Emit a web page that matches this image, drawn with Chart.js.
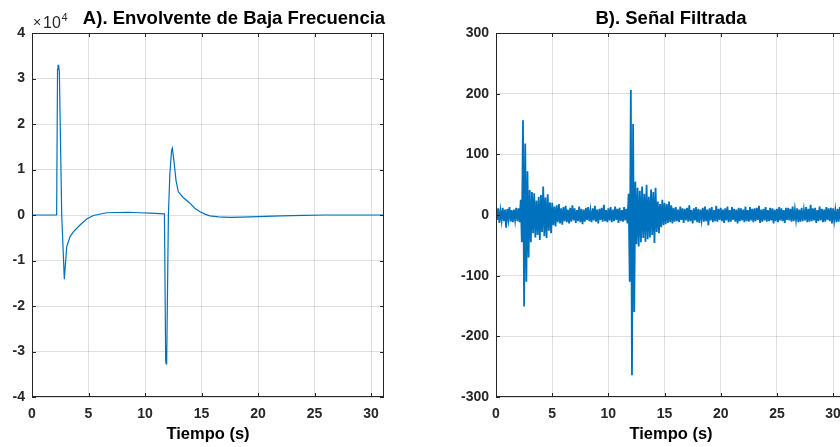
<!DOCTYPE html>
<html lang="es">
<head>
<meta charset="UTF-8">
<title>Envolvente y Señal Filtrada</title>
<script src="https://cdn.jsdelivr.net/npm/chart.js"></script>
<style>
  body { margin: 0; background: #fff; overflow: hidden; width: 840px; height: 447px; position: relative; }
  canvas { position: absolute; top: 0; }
  #envChart { left: 0; }
  #filtChart { left: 420px; }
</style>
</head>
<body>
<canvas id="envChart" width="420" height="447"></canvas>
<canvas id="filtChart" width="430" height="447"></canvas>
<script>
// A) low frequency envelope (time in s, amplitude)
const envTime = [0, 2.18, 2.26, 2.30, 2.36, 2.42, 2.63, 2.86, 3.07, 3.36, 3.66, 4.25, 4.84, 5.43, 6.6, 7.5, 8.5, 9.5, 10.5, 11.3, 11.72,
  11.83, 11.87, 11.92, 12.07, 12.2, 12.35, 12.42, 12.55, 12.75, 12.95, 13.4, 13.98, 14.4, 14.87, 15.3, 15.75, 16.5, 17.5, 18.5,
  20, 22, 24, 26, 28, 31.2];
const envValue = [0, 0, 32000, 32900, 32900, 31500, 0, -14100, -7000, -4800, -3700, -2200, -900, -100, 500, 550, 600, 500, 400, 300, 250,
  -32000, -32700, -32000, 0, 9000, 14200, 14700, 12100, 7500, 5100, 3800, 2600, 1500, 700, 200, -200, -400, -500, -450,
  -350, -200, -100, 0, 0, 0];

// B) filtered signal, one sample every 0.1 s starting at t = 0
const filtStart = 0;
const filtStep = 0.1;
const filtValue = [
  16, -8, 11, -13, 7, -9, 12, -10, 9, -21,
  10, -7, 13, -11, 8, -12, 9, -8, 12, -10,
  11, -12, 25, -45, 156, -151, 118, -110, 72, -70,
  41, -45, 38, -30, 36, -37, 24, -33, 30, -41,
  33, -28, 47, -35, 29, -38, 34, -26, 21, -30,
  20, -17, 14, -19, 16, -12, 18, -14, 11, -16,
  13, -10, 15, -12, 9, -14, 12, -11, 16, -9,
  11, -13, 8, -10, 14, -12, 10, -15, 9, -11,
  12, -8, 13, -10, 7, -12, 11, -9, 15, -11,
  9, -14, 10, -8, 12, -11, 17, -10, 8, -12,
  11, -9, 13, -12, 9, -10, 14, -8, 10, -13,
  12, -10, 8, -11, 13, -9, 10, -14, 35, -110,
  206, -264, 150, -160, 55, -48, 45, -52, 40, -45,
  47, -38, 35, -44, 50, -40, 30, -37, 42, -33,
  38, -46, 45, -28, 22, -30, 18, -20, 25, -17,
  20, -15, 18, -13, 22, -12, 16, -14, 12, -11,
  13, -10, 9, -12, 14, -8, 11, -13, 10, -9,
  12, -11, 16, -10, 8, -14, 11, -9, 13, -12,
  10, -13, 9, -8, 12, -11, 14, -10, 9, -17,
  11, -9, 13, -12, 8, -10, 15, -11, 10, -8,
  12, -10, 9, -13, 11, -9, 14, -12, 8, -11,
  13, -8, 10, -11, 9, -14, 12, -10, 11, -9,
  9, -12, 14, -10, 8, -11, 13, -9, 10, -12,
  11, -10, 12, -8, 15, -13, 9, -11, 10, -9,
  13, -11, 8, -10, 12, -9, 11, -14, 9, -10,
  10, -12, 13, -9, 11, -10, 8, -13, 12, -8,
  12, -9, 10, -11, 14, -10, 9, -8, 11, -12,
  9, -11, 12, -10, 8, -9, 13, -12, 10, -11,
  17, -10, 11, -9, 12, -13, 8, -10, 14, -9,
  10, -12, 9, -11, 13, -8, 11, -10, 12, -14,
  11, -9, 8, -12, 10, -11, 13, -9, 12, -10,
  9, -11
];

const timeTicks = [0, 5, 10, 15, 20, 25, 30];
const envTicks = [-40000, -30000, -20000, -10000, 0, 10000, 20000, 30000, 40000];
const filtTicks = [-300, -200, -100, 0, 100, 200, 300];
const timeMax = 31.15;

const FONT = '"Liberation Sans", Arial, Helvetica, sans-serif';
const INK = '#262626';
const GRID = 'rgba(38,38,38,0.15)';
const BLUE = '#0072BD';

// box, inward ticks, title and exponent, like the MATLAB axes
const framePlugin = {
  id: 'frame',
  afterDraw(chart, args, opts) {
    const { ctx, chartArea: a, scales: { x, y } } = chart;
    ctx.save();
    ctx.strokeStyle = INK;
    ctx.lineWidth = 1;
    ctx.strokeRect(a.left + 0.5, a.top + 0.5, a.right - a.left - 1, a.bottom - a.top - 1);
    ctx.beginPath();
    x.ticks.forEach(t => {
      const px = Math.round(x.getPixelForValue(t.value)) + 0.5;
      ctx.moveTo(px, a.bottom); ctx.lineTo(px, a.bottom - 4);
      ctx.moveTo(px, a.top); ctx.lineTo(px, a.top + 4);
    });
    y.ticks.forEach(t => {
      const py = Math.round(y.getPixelForValue(t.value)) + 0.5;
      ctx.moveTo(a.left, py); ctx.lineTo(a.left + 4, py);
      ctx.moveTo(a.right, py); ctx.lineTo(a.right - 4, py);
    });
    ctx.stroke();

    ctx.fillStyle = '#000';
    ctx.font = 'bold 18.5px ' + FONT;
    ctx.textAlign = 'center';
    ctx.textBaseline = 'middle';
    ctx.fillText(opts.text, (a.left + a.right) / 2 + (opts.shift || 0), 19);

    if (opts.exponent) {
      ctx.fillStyle = INK;
      ctx.textAlign = 'left';
      ctx.textBaseline = 'alphabetic';
      ctx.font = '14px ' + FONT;
      ctx.fillText('\u00d7', a.left + 1, 27);
      ctx.font = '16px ' + FONT;
      ctx.fillText('10', a.left + 11, 27.5);
      ctx.font = '11px ' + FONT;
      ctx.fillText(opts.exponent, a.left + 29.5, 20.5);
    }
    ctx.restore();
  }
};

function makeScales(yTicks, yWidth, yFormat) {
  const tickFont = { family: FONT, size: 14, weight: 'bold' };
  return {
    x: {
      type: 'linear',
      min: 0,
      max: timeMax,
      afterBuildTicks: s => { s.ticks = timeTicks.map(v => ({ value: v })); },
      afterFit: s => { s.height = 50; },
      border: { display: false },
      grid: { color: GRID, drawTicks: false },
      ticks: { color: INK, font: tickFont, padding: 9, maxRotation: 0, autoSkip: false },
      title: {
        display: true, text: 'Tiempo (s)', color: '#000',
        font: { family: FONT, size: 16.5, weight: 'bold' },
        padding: { top: 0, bottom: 3 }
      }
    },
    y: {
      type: 'linear',
      min: yTicks[0],
      max: yTicks[yTicks.length - 1],
      afterBuildTicks: s => { s.ticks = yTicks.map(v => ({ value: v })); },
      afterFit: s => { s.width = yWidth; },
      border: { display: false },
      grid: { color: GRID, drawTicks: false },
      ticks: { color: INK, font: tickFont, padding: 7, autoSkip: false, callback: yFormat }
    }
  };
}

new Chart(document.getElementById('envChart'), {
  type: 'line',
  data: {
    datasets: [{
      data: envTime.map((t, i) => ({ x: t, y: envValue[i] })),
      borderColor: BLUE,
      borderWidth: 1.2,
      pointRadius: 0,
      tension: 0
    }]
  },
  options: {
    responsive: false,
    animation: false,
    events: [],
    layout: { padding: { top: 33, right: 36, bottom: 0, left: 0 } },
    scales: makeScales(envTicks, 32, v => String(v / 10000)),
    plugins: {
      legend: { display: false },
      tooltip: { enabled: false },
      frame: { text: 'A). Envolvente de Baja Frecuencia', exponent: '4', shift: 26 }
    }
  },
  plugins: [framePlugin]
});

new Chart(document.getElementById('filtChart'), {
  type: 'line',
  data: {
    datasets: [{
      data: filtValue.map((v, i) => ({ x: filtStart + i * filtStep, y: v })),
      borderColor: BLUE,
      borderWidth: 1.8,
      pointRadius: 0,
      tension: 0
    }]
  },
  options: {
    responsive: false,
    animation: false,
    events: [],
    layout: { padding: { top: 33, right: 3, bottom: 0, left: 0 } },
    scales: makeScales(filtTicks, 76, v => String(v)),
    plugins: {
      legend: { display: false },
      tooltip: { enabled: false },
      frame: { text: 'B). Señal Filtrada' }
    }
  },
  plugins: [framePlugin]
});
</script>
</body>
</html>
